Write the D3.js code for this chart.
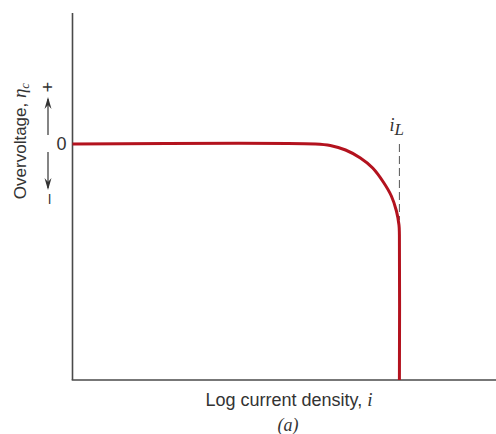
<!DOCTYPE html>
<html><head><meta charset="utf-8">
<script src="https://cdn.jsdelivr.net/npm/d3@7"></script>
<style>body{margin:0;background:#fff}svg{display:block}</style>
</head><body>
<script>
// Data (log current density in arbitrary units, overvoltage in arbitrary units)
const logI = [0, 57.3, 60.8, 64.4, 67.9, 70.8, 73.3, 75.2, 76.4, 77.0, 77.1, 77.1];
const overvoltage = [0, 0, -0.015, -0.06, -0.14, -0.24, -0.38, -0.52, -0.67, -0.81, -0.91, -2.36];
const limitingI = 77.1;
const xLabel = "Log current density, ";
const yLabel = "Overvoltage, ";
const caption = "(a)";

const W = 496, H = 434;
const svg = d3.select("body").append("svg").attr("width", W).attr("height", H);
const x = d3.scaleLinear().domain([0, 100]).range([72.5, 496.5]);
const y = d3.scaleLinear().domain([-2.36, 1.31]).range([380, 13]);

const axisColor = "#4a4a4a";
const sans = "Liberation Sans, Arial, sans-serif";
const serif = "Liberation Serif, DejaVu Serif, serif";
// axes
svg.append("line").attr("x1", x(0)).attr("x2", x(0)).attr("y1", y(1.31)).attr("y2", y(-2.36))
  .attr("stroke", axisColor).attr("stroke-width", 1.6);
svg.append("line").attr("x1", x(0) - 0.8).attr("x2", W).attr("y1", y(-2.36)).attr("y2", y(-2.36))
  .attr("stroke", axisColor).attr("stroke-width", 1.6);

// dashed limiting line
svg.append("line").attr("x1", x(limitingI)).attr("x2", x(limitingI)).attr("y1", y(0)).attr("y2", y(-0.76))
  .attr("stroke", "#555").attr("stroke-width", 1).attr("stroke-dasharray", "8,4");

// curve
const pts = logI.map((v, i) => [v, overvoltage[i]]);
svg.append("path").datum(pts)
  .attr("d", d3.line().x(d => x(d[0])).y(d => y(d[1])).curve(d3.curveCatmullRom.alpha(0.5)))
  .attr("fill", "none").attr("stroke", "#b3121e").attr("stroke-width", 3);

// i_L label
const il = svg.append("text").attr("x", x(limitingI) - 10).attr("y", y(0) - 13)
  .attr("font-family", serif).attr("font-style", "italic").attr("font-size", 18).attr("fill", "#333");
il.append("tspan").text("i");
il.append("tspan").attr("dy", 4).attr("font-size", 17).text("L");

// zero label
svg.append("text").attr("x", x(0) - 6).attr("y", y(0)).attr("dy", "0.36em").attr("text-anchor", "end")
  .attr("font-family", sans).attr("font-size", 18).attr("fill", "#333").text("0");

// +/- arrows (rotated)
const ax = 48;
svg.append("line").attr("x1", ax).attr("x2", ax).attr("y1", 135).attr("y2", 99).attr("stroke", "#333").attr("stroke-width", 1.2);
svg.append("path").attr("d", `M${ax-3.5},${109} L${ax},${97} L${ax+3.5},${109} L${ax},${105} Z`).attr("fill", "#333");
svg.append("line").attr("x1", ax).attr("x2", ax).attr("y1", 152).attr("y2", 188).attr("stroke", "#333").attr("stroke-width", 1.2);
svg.append("path").attr("d", `M${ax-3.5},${178} L${ax},${190} L${ax+3.5},${178} L${ax},${182} Z`).attr("fill", "#333");
svg.append("text").attr("transform", `translate(${ax+6},87) rotate(-90)`).attr("text-anchor", "middle")
  .attr("font-family", sans).attr("font-size", 18).attr("fill", "#333").text("+");
svg.append("text").attr("transform", `translate(${ax+6},199) rotate(-90)`).attr("text-anchor", "middle")
  .attr("font-family", sans).attr("font-size", 18).attr("fill", "#333").text("–");

// y label
const yl = svg.append("text").attr("transform", "translate(26,141) rotate(-90)").attr("text-anchor", "middle")
  .attr("font-family", sans).attr("font-size", 17).attr("fill", "#333");
yl.append("tspan").text(yLabel);
yl.append("tspan").attr("font-family", serif).attr("font-style", "italic").attr("font-size", 19).text("η");
yl.append("tspan").attr("font-family", serif).attr("font-style", "italic").attr("font-size", 13).attr("dy", 3).text("c");

// x label
const xl = svg.append("text").attr("x", 289).attr("y", 406).attr("text-anchor", "middle")
  .attr("font-family", sans).attr("font-size", 18).attr("fill", "#333");
xl.append("tspan").text(xLabel);
xl.append("tspan").attr("font-family", serif).attr("font-style", "italic").attr("font-size", 19).text("i");

svg.append("text").attr("x", 288).attr("y", 431).attr("text-anchor", "middle")
  .attr("font-family", serif).attr("font-style", "italic").attr("font-size", 18).attr("fill", "#333").text(caption);
</script>
</body></html>
